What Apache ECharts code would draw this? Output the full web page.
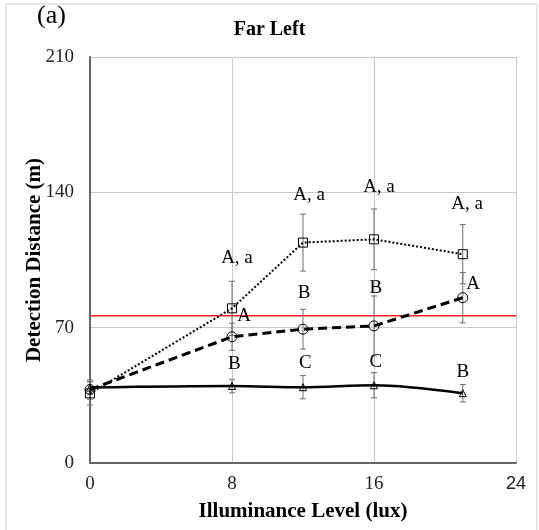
<!DOCTYPE html>
<html>
<head>
<meta charset="utf-8">
<script src="https://cdn.jsdelivr.net/npm/echarts@6/dist/echarts.min.js"></script>
<style>html,body{margin:0;padding:0;background:#fff}#chart{width:539px;height:530px}</style>
</head>
<body>
<div id="chart"></div>
<script>
var xLevels = [0, 8, 12, 16, 21];
// dotted line, squares
var squareMean = [36, 80, 114, 115.7, 108];
var squareErr = [6, 14, 14.7, 15.7, 15.3];
// dashed line, circles
var circleMean = [38, 65.3, 69.2, 70.9, 85.5];
var circleErr = [5, 7, 10.3, 15.5, 13];
// solid line, triangles
var triMean = [39, 39.8, 39.2, 40.2, 36.1];
var triErr = [3, 3.5, 6, 6.5, 4.5];
var refLine = 76.2;
var refSpan = [0, 24];
// significance letters (x, y in data units)
var letterX = [8.28, 12.34, 16.28, 21.24, 8.68, 12.06, 16.1, 21.58, 8.13, 12.13, 16.1, 21.0];
var letterY = [106, 138.6, 142.8, 134, 76, 87.8, 90.4, 92.6, 51, 51.6, 52.4, 47.2];
var letterText = ['A, a', 'A, a', 'A, a', 'A, a', 'A', 'B', 'B', 'A', 'B', 'C', 'C', 'B'];

var serif = 'Liberation Serif';

function pairs(ys) {
    var res = [];
    for (var i = 0; i < xLevels.length; i++) res.push([xLevels[i], ys[i]]);
    return res;
}
function bars(ys, es) {
    var res = [];
    for (var i = 0; i < xLevels.length; i++) res.push([xLevels[i], ys[i] - es[i], ys[i] + es[i]]);
    return res;
}
var letters = [];
for (var i = 0; i < letterText.length; i++) letters.push([letterX[i], letterY[i], letterText[i]]);

function errRender(params, api) {
    var x = api.value(0);
    var lo = api.coord([x, api.value(1)]);
    var hi = api.coord([x, api.value(2)]);
    var w = 3;
    var st = {stroke: '#6e6e6e', lineWidth: 1};
    return {type: 'group', children: [
        {type: 'line', shape: {x1: lo[0], y1: lo[1], x2: hi[0], y2: hi[1]}, style: st},
        {type: 'line', shape: {x1: lo[0] - w, y1: lo[1], x2: lo[0] + w, y2: lo[1]}, style: st},
        {type: 'line', shape: {x1: hi[0] - w, y1: hi[1], x2: hi[0] + w, y2: hi[1]}, style: st}
    ]};
}
function letterRender(params, api) {
    var p = api.coord([api.value(0), api.value(1)]);
    return {type: 'text', x: p[0], y: p[1], style: {
        text: letters[params.dataIndex][2], fill: '#000', font: '19px "' + serif + '"',
        align: 'center', verticalAlign: 'middle'
    }};
}

var chart = echarts.init(document.getElementById('chart'));
var option = {
    animation: false,
    backgroundColor: '#fff',
    title: {
        text: 'Far Left', left: 'center', top: 15,
        textStyle: {fontFamily: serif, fontSize: 20, fontWeight: 'bold', color: '#000'}
    },
    graphic: [
        {type: 'rect', shape: {x: 6, y: 4, width: 531, height: 540}, style: {fill: 'none', stroke: '#d0d0d0', lineWidth: 1}, z: -1},
        {type: 'text', left: 37, top: 3, style: {text: '(a)', font: '26px "' + serif + '"', fill: '#000'}}
    ],
    grid: {left: 90, right: 23, top: 57, bottom: 67},
    xAxis: {
        type: 'value', min: 0, max: 24, interval: 8,
        name: 'Illuminance Level (lux)', nameLocation: 'middle', nameGap: 38, nameMoveOverlap: false,
        nameTextStyle: {fontFamily: serif, fontSize: 21, fontWeight: 'bold', color: '#000'},
        axisLine: {lineStyle: {color: '#666', width: 2}},
        axisTick: {show: false},
        axisLabel: {
            fontFamily: serif, fontSize: 19, color: '#222', margin: 12,
            formatter: function (v) { return v === 24 ? '{s|24}' : String(v); },
            rich: {s: {fontFamily: 'Liberation Sans', fontSize: 18, color: '#222'}}
        },
        splitLine: {show: true, lineStyle: {color: '#c8c8c8', width: 1}}
    },
    yAxis: {
        type: 'value', min: 0, max: 210, interval: 70,
        name: 'Detection Distance (m)', nameLocation: 'middle', nameGap: 45, nameMoveOverlap: false,
        nameTextStyle: {fontFamily: serif, fontSize: 21, fontWeight: 'bold', color: '#000'},
        axisLine: {show: true, lineStyle: {color: '#666', width: 2}},
        axisTick: {show: false},
        axisLabel: {fontFamily: serif, fontSize: 19, color: '#222', margin: 16},
        splitLine: {show: true, lineStyle: {color: '#c8c8c8', width: 1}}
    },
    series: [
        {
            type: 'line', data: [[refSpan[0], refLine], [refSpan[1], refLine]], symbol: 'none', silent: true, z: 2,
            color: '#ff0000', lineStyle: {color: '#ff2020', width: 1.5}
        },
        {type: 'custom', renderItem: errRender, data: bars(squareMean, squareErr), encode: {x: 0, y: [1, 2]}, z: 3},
        {type: 'custom', renderItem: errRender, data: bars(circleMean, circleErr), encode: {x: 0, y: [1, 2]}, z: 3},
        {type: 'custom', renderItem: errRender, data: bars(triMean, triErr), encode: {x: 0, y: [1, 2]}, z: 3},
        {
            type: 'line', data: pairs(squareMean), symbol: 'rect', symbolSize: 9, z: 4,
            lineStyle: {color: '#000', width: 2, type: [2, 2]},
            itemStyle: {color: 'rgba(255,255,255,0)', borderColor: '#000', borderWidth: 1}
        },
        {
            type: 'line', data: pairs(circleMean), symbol: 'circle', symbolSize: 10, z: 4,
            lineStyle: {color: '#000', width: 3, type: [9, 5]},
            itemStyle: {color: 'rgba(255,255,255,0)', borderColor: '#000', borderWidth: 1}
        },
        {
            type: 'line', data: pairs(triMean), symbol: 'triangle', symbolSize: 7, smooth: 0.3, z: 4,
            lineStyle: {color: '#000', width: 2.5},
            itemStyle: {color: 'rgba(255,255,255,0)', borderColor: '#000', borderWidth: 1}
        },
        {type: 'custom', renderItem: letterRender, data: letters, encode: {x: 0, y: 1}, z: 5}
    ]
};
chart.setOption(option);
</script>
</body>
</html>
